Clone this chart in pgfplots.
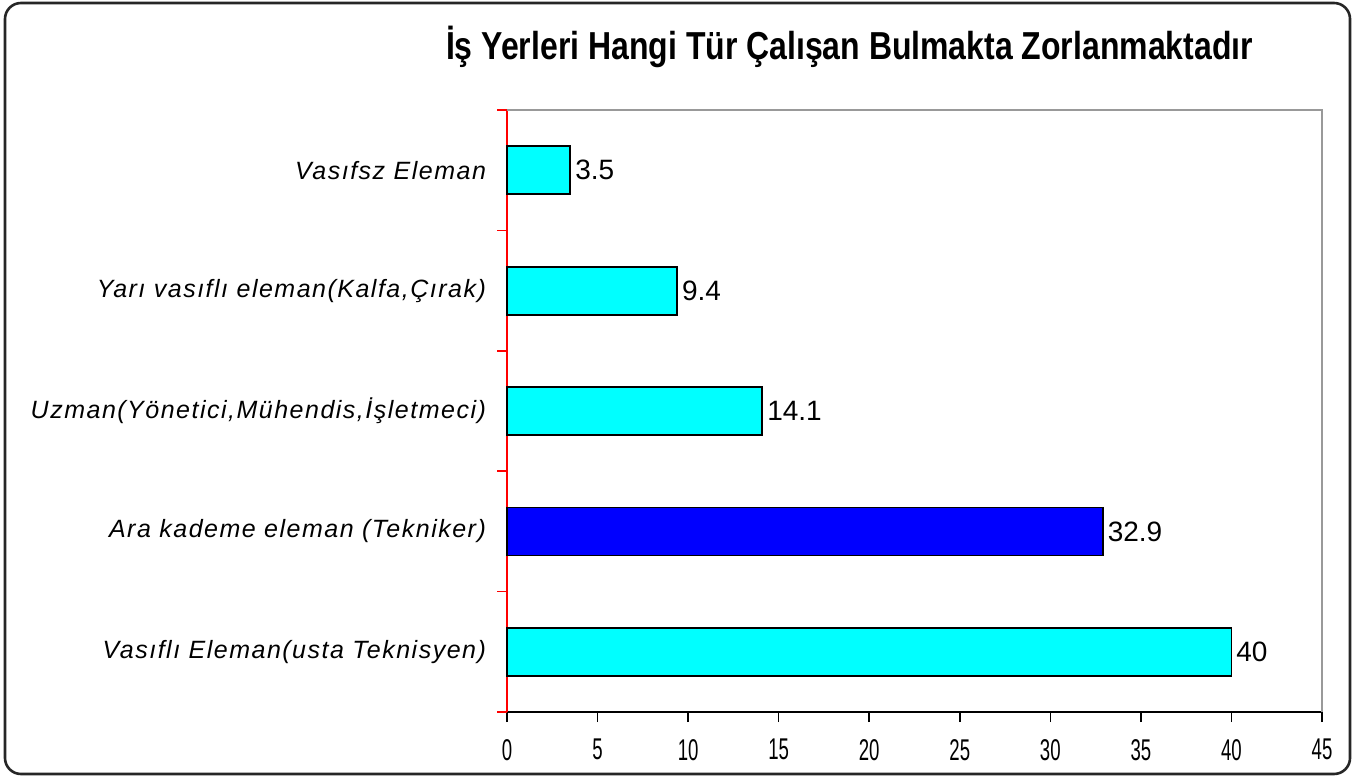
\documentclass[border=0pt]{standalone}
\usepackage{pgfplots}
\pgfplotsset{compat=1.18}
\usepackage{fontspec}
\setmainfont{Liberation Sans}
\newfontfamily\lblfont[LetterSpace=6]{Liberation Sans}
\begin{document}
\begin{tikzpicture}[x=1pt,y=1pt]
\path[use as bounding box] (0,0) rectangle (676.5,388.5);
\draw[line width=1.3pt, rounded corners=8pt, black!85] (2.5,1.5) rectangle (675,387);
\node[font=\bfseries\fontsize{19.5}{21}\selectfont, inner sep=0pt] at (424.75,365) {\scalebox{0.82}[1]{İş Yerleri Hangi Tür Çalışan Bulmakta Zorlanmaktadır}};
\begin{axis}[at={(253.5pt,32.5pt)}, anchor=south west, scale only axis,
  width=407.5pt, height=301pt,
  xmin=0, xmax=45, ymin=-0.5, ymax=4.5,
  /pgf/number format/assume math mode=true,
  xbar, bar width=24pt,
  axis x line*=bottom, axis y line*=left,
  x axis line style={black, line width=0.9pt},
  y axis line style={red, line width=0.9pt},
  tick align=outside,
  xtick={0,5,...,45},
  x tick style={black, line width=0.8pt},
  major tick length=5pt,
  xticklabel style={font=\fontsize{15}{16}\selectfont, yshift=-5pt},
  xticklabel={\scalebox{0.62}[1]{\pgfmathprintnumber{\tick}}},
  ytick={-0.5,0.5,...,4.5},
  yticklabels={},
  y tick style={red, line width=0.8pt},
  extra y ticks={0,1,2,3,4},
  extra y tick labels={{Vasıflı Eleman(usta Teknisyen)},{Ara kademe eleman (Tekniker)},{Uzman(Yönetici,Mühendis,İşletmeci)},{Yarı vasıflı eleman(Kalfa,Çırak)},{Vasıfsz Eleman}},
  extra y tick style={major tick length=0pt, yticklabel style={font=\lblfont\itshape\fontsize{12.5}{13}\selectfont, xshift=-7pt}},
  nodes near coords,
  every node near coord/.append style={anchor=west, font=\fontsize{14}{15}\selectfont, inner sep=2pt, black},
  clip=false,
]
\addplot[bar shift=0pt, fill={rgb,255:red,0;green,255;blue,255}, draw=black, line width=0.9pt]
  coordinates {(40,0) (14.1,2) (9.4,3) (3.5,4)};
\addplot[bar shift=0pt, fill={rgb,255:red,0;green,0;blue,255}, draw=black, line width=0.9pt]
  coordinates {(32.9,1)};
\draw[gray!80, line width=0.9pt] (rel axis cs:0,1) -- (rel axis cs:1,1) -- (rel axis cs:1,0);
\end{axis}
\end{tikzpicture}
\end{document}
